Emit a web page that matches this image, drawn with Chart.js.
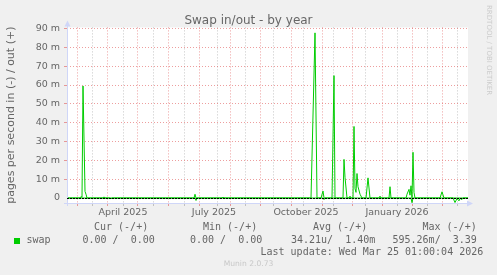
<!DOCTYPE html>
<html lang="en">
<head>
<meta charset="UTF-8">
<title>Swap in/out - by year</title>
<script src="https://cdn.jsdelivr.net/npm/chart.js"></script>
<style>
    html, body { margin: 0; padding: 0; background: #f0f0f0; }
    #wrap { position: relative; width: 497px; height: 275px; overflow: hidden; }
    #swapChart { position: absolute; left: 0; top: 0; }
    .txt { position: absolute; white-space: pre; color: #666; font-family: 'DejaVu Sans Mono', monospace; font-size: 10px; line-height: 10px; }
    .title { position: absolute; left: 0; width: 497px; top: 14px; text-align: center; color: #666; font-family: 'DejaVu Sans', sans-serif; font-size: 12px; line-height: 12px; }
    .swatch { position: absolute; left: 14px; top: 238px; width: 6px; height: 6px; background: #00cc00; }
    .munin { position: absolute; left: 0; width: 497px; top: 260px; text-align: center; color: #c8c8c8; font-family: 'DejaVu Sans', sans-serif; font-size: 7.6px; line-height: 8px; }
</style>
</head>
<body>
<div id="wrap">
    <canvas id="swapChart" width="497" height="275"></canvas>
    <div class="title">Swap in/out - by year</div>
    <div class="txt" style="left:94px; top:221.5px">Cur (-/+)</div>
    <div class="txt" style="left:203px; top:221.5px">Min (-/+)</div>
    <div class="txt" style="left:313px; top:221.5px">Avg (-/+)</div>
    <div class="txt" style="left:422.5px; top:221.5px">Max (-/+)</div>
    <div class="swatch"></div>
    <div class="txt" style="left:26.5px; top:235px">swap</div>
    <div class="txt" style="left:82.5px; top:235px">0.00 /  0.00</div>
    <div class="txt" style="left:190px; top:235px">0.00 /  0.00</div>
    <div class="txt" style="left:291px; top:235px">34.21u/  1.40m</div>
    <div class="txt" style="left:392.5px; top:235px">595.26m/  3.39</div>
    <div class="txt" style="left:260.5px; top:246.5px">Last update: Wed Mar 25 01:00:04 2026</div>
    <div class="munin">Munin 2.0.73</div>
</div>

<script>
    // x is days since the left edge of the graph (400 days shown), y in milli pages/s
    const outDays  = [0, 1, 13, 14, 15, 16, 18, 19, 20, 36, 37, 38, 127, 128, 129, 155, 156, 157,
                      244, 248, 250, 254, 256, 257, 265, 267, 268, 276, 277, 278, 280, 282, 283, 284,
                      286, 287, 288, 289, 290, 291, 293, 295, 299, 301, 303, 312, 313, 314, 322, 323, 324,
                      339, 340, 342, 343, 344, 345, 346, 347, 348, 373, 375, 377, 401];
    const outMilli = [0.8, 0, 0, 0.8, 0.3, 59.5, 3.5, 2, 0, 0, 0.6, 0, 0, 2, 0, 0, 0.5, 0,
                      0, 87.7, 0, 0, 3.7, 0, 0, 65, 0, 0, 20.5, 11, 0, 0, 1, 0,
                      0, 38, 5, 3, 13, 6, 2, 0, 0, 10.7, 0, 0, 1, 0, 0, 6, 0,
                      0, 2, 4.6, 1.5, 6.5, 0, 24.3, 3, 0, 0, 3.3, 0, 0];

    const inDays  = [0, 43, 44, 45, 128, 129, 130, 256, 257, 258, 344, 345, 346,
                     386, 388, 390, 392, 393, 395, 396, 401];
    const inMilli = [0, 0, -0.5, 0, 0, -1.3, 0, 0, -0.8, 0, 0, -2.5, 0,
                     0, -2.4, -0.3, -1.5, -0.2, -0.8, 0, 0];

    const monthDays = [10, 40, 70, 101, 132, 163, 193, 224, 255, 285, 315, 345, 375];
    const minorDays = [25, 56, 86, 117, 150, 178, 206, 236, 266, 298, 330, 360, 390];
    const labelDays = [56, 147, 239, 330];
    const labelTexts = ['April 2025', 'July 2025', 'October 2025', 'January 2026'];

    const yTicks = [0, 5, 10, 15, 20, 25, 30, 35, 40, 45, 50, 55, 60, 65, 70, 75, 80, 85, 90];
    const yLabelled = [0, 10, 20, 30, 40, 50, 60, 70, 80, 90];

    const RED = 'rgba(222, 79, 79, 0.55)';
    const GREY = 'rgba(143, 143, 143, 0.5)';
    const GREEN = '#00cc00';
    const AXIS = '#cfd6f8';

    const xTickValues = Array.from(new Set([...monthDays, ...minorDays, ...labelDays])).sort((a, b) => a - b);

    const muninPlugin = {
        id: 'munin',
        beforeDraw(chart) {
            const { ctx, chartArea: a } = chart;
            ctx.save();
            ctx.fillStyle = '#ffffff';
            ctx.fillRect(a.left, a.top, a.right - a.left, a.bottom - a.top);
            ctx.restore();
        },
        afterDatasetsDraw(chart) {
            const { ctx, chartArea: a, scales: { y } } = chart;
            ctx.save();
            // axes with arrows
            ctx.strokeStyle = AXIS;
            ctx.lineWidth = 1;
            ctx.beginPath();
            ctx.moveTo(a.left + 0.5, a.bottom + 3);
            ctx.lineTo(a.left + 0.5, a.top - 3);
            ctx.moveTo(a.left - 3, a.bottom + 0.5);
            ctx.lineTo(a.right, a.bottom + 0.5);
            ctx.stroke();
            ctx.fillStyle = AXIS;
            ctx.beginPath();
            ctx.moveTo(a.left + 0.5, a.top - 7);
            ctx.lineTo(a.left - 2.5, a.top - 1);
            ctx.lineTo(a.left + 3.5, a.top - 1);
            ctx.closePath();
            ctx.fill();
            ctx.beginPath();
            ctx.moveTo(a.right + 5, a.bottom + 0.5);
            ctx.lineTo(a.right - 1, a.bottom - 2.5);
            ctx.lineTo(a.right - 1, a.bottom + 3.5);
            ctx.closePath();
            ctx.fill();
            // zero line
            const y0 = Math.round(y.getPixelForValue(0)) + 0.5;
            ctx.strokeStyle = '#000000';
            ctx.setLineDash([2, 1]);
            ctx.beginPath();
            ctx.moveTo(a.left, y0);
            ctx.lineTo(a.right, y0);
            ctx.stroke();
            ctx.restore();
        },
        afterDraw(chart) {
            const { ctx } = chart;
            ctx.save();
            ctx.translate(485, 5);
            ctx.rotate(Math.PI / 2);
            ctx.fillStyle = '#cccccc';
            ctx.font = '7px "DejaVu Sans"';
            ctx.textBaseline = 'bottom';
            ctx.fillText('RRDTOOL / TOBI OETIKER', 0, 0);
            ctx.restore();
        }
    };

    function gridColor(ctx, majors, minors) {
        const v = ctx.tick ? ctx.tick.value : null;
        if (majors.includes(v)) return RED;
        if (minors.includes(v)) return GREY;
        return 'rgba(0,0,0,0)';
    }

    new Chart(document.getElementById('swapChart'), {
        type: 'line',
        data: {
            datasets: [{
                label: 'swap out',
                data: outDays.map((d, i) => ({ x: d, y: outMilli[i] })),
                borderColor: GREEN,
                borderWidth: 1,
                pointRadius: 0,
                tension: 0,
                fill: false
            }, {
                label: 'swap in',
                data: inDays.map((d, i) => ({ x: d, y: inMilli[i] })),
                borderColor: GREEN,
                borderWidth: 1,
                pointRadius: 0,
                tension: 0,
                fill: false
            }]
        },
        options: {
            responsive: false,
            animation: false,
            layout: { padding: { top: 27.4, right: 29, bottom: 0, left: 0 } },
            plugins: { legend: { display: false }, tooltip: { enabled: false } },
            scales: {
                x: {
                    type: 'linear',
                    min: 0,
                    max: 401,
                    afterBuildTicks: s => { s.ticks = xTickValues.map(v => ({ value: v })); },
                    afterFit: s => { s.height = 72; },
                    grid: {
                        color: c => gridColor(c, monthDays, minorDays.filter(v => !monthDays.includes(v))),
                        tickLength: 3
                    },
                    border: { display: false, dash: [1, 2] },
                    ticks: {
                        autoSkip: false,
                        maxRotation: 0,
                        minRotation: 0,
                        padding: 1,
                        color: '#666',
                        font: { family: 'DejaVu Sans', size: 9.5 },
                        callback: v => {
                            const i = labelDays.indexOf(v);
                            return i >= 0 ? labelTexts[i] : '';
                        }
                    }
                },
                y: {
                    min: -2.65,
                    max: 90.6,
                    afterBuildTicks: s => { s.ticks = yTicks.map(v => ({ value: v })); },
                    afterFit: s => { s.width = 67; },
                    grid: {
                        color: c => (c.tick && c.tick.value === 0) ? 'rgba(0,0,0,0)' :
                            gridColor(c, yLabelled, yTicks),
                        tickLength: 3
                    },
                    border: { display: false, dash: [1, 2] },
                    ticks: {
                        padding: 4,
                        color: '#666',
                        font: { family: 'DejaVu Sans', size: 9.5 },
                        callback: v => yLabelled.includes(v) ? (v === 0 ? '0' : v + ' m') : ''
                    },
                    title: {
                        display: true,
                        text: 'pages per second in (-) / out (+)',
                        color: '#666',
                        font: { family: 'DejaVu Sans', size: 11 },
                        padding: { top: 5, bottom: 0 }
                    }
                }
            }
        },
        plugins: [muninPlugin]
    });
</script>
</body>
</html>
